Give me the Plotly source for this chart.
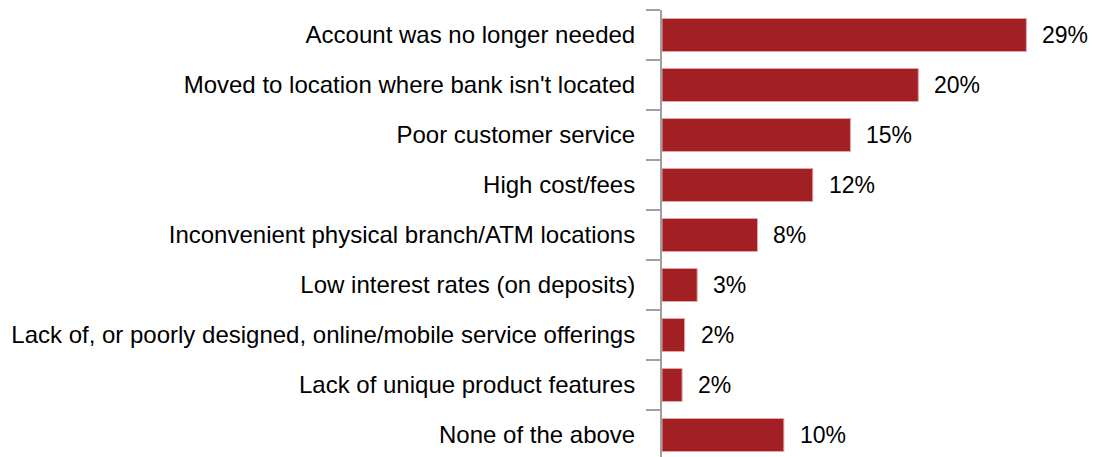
import plotly.graph_objects as go

# Reasons for closing a bank account (share of respondents, %)
reasons = [
    "Account was no longer needed",
    "Moved to location where bank isn't located",
    "Poor customer service",
    "High cost/fees",
    "Inconvenient physical branch/ATM locations",
    "Low interest rates (on deposits)",
    "Lack of, or poorly designed, online/mobile service offerings",
    "Lack of unique product features",
    "None of the above",
]
shares = [29.0, 20.4, 15.0, 12.0, 7.6, 2.8, 1.8, 1.6, 9.7]

BAR_COLOR = "#A21F23"
FONT = "Liberation Sans, Arial, sans-serif"

fig = go.Figure(
    go.Bar(
        x=shares,
        y=reasons,
        orientation="h",
        width=0.66,
        marker=dict(color=BAR_COLOR, line=dict(color="#e3a5a7", width=1)),
        hoverinfo="skip",
    )
)

# value labels placed just beyond each bar end
for r, v in zip(reasons, shares):
    fig.add_annotation(
        x=v, y=r, text=f"{v:.0f}%", showarrow=False,
        xanchor="left", xshift=14, yanchor="middle",
        font=dict(family=FONT, size=23, color="#000000"),
    )

fig.update_layout(
    width=1103, height=457,
    margin=dict(l=662, r=0, t=10, b=0),
    paper_bgcolor="white", plot_bgcolor="white",
    showlegend=False,
    font=dict(family=FONT, size=24, color="#000000"),
    bargap=0.34,
)
fig.update_xaxes(range=[0, 35.1], visible=False, showgrid=False, zeroline=False)
fig.update_yaxes(
    type="category",
    categoryorder="array", categoryarray=reasons,
    range=[8.44, -0.5],
    showline=True, linecolor="#a0a0a0", linewidth=2,
    ticks="outside", tickson="boundaries", ticklen=14, tickwidth=2, tickcolor="#a0a0a0",
    ticklabelstandoff=20,
    showgrid=False, zeroline=False,
    tickfont=dict(family=FONT, size=24, color="#000000"),
)

fig.write_html("out.html")
